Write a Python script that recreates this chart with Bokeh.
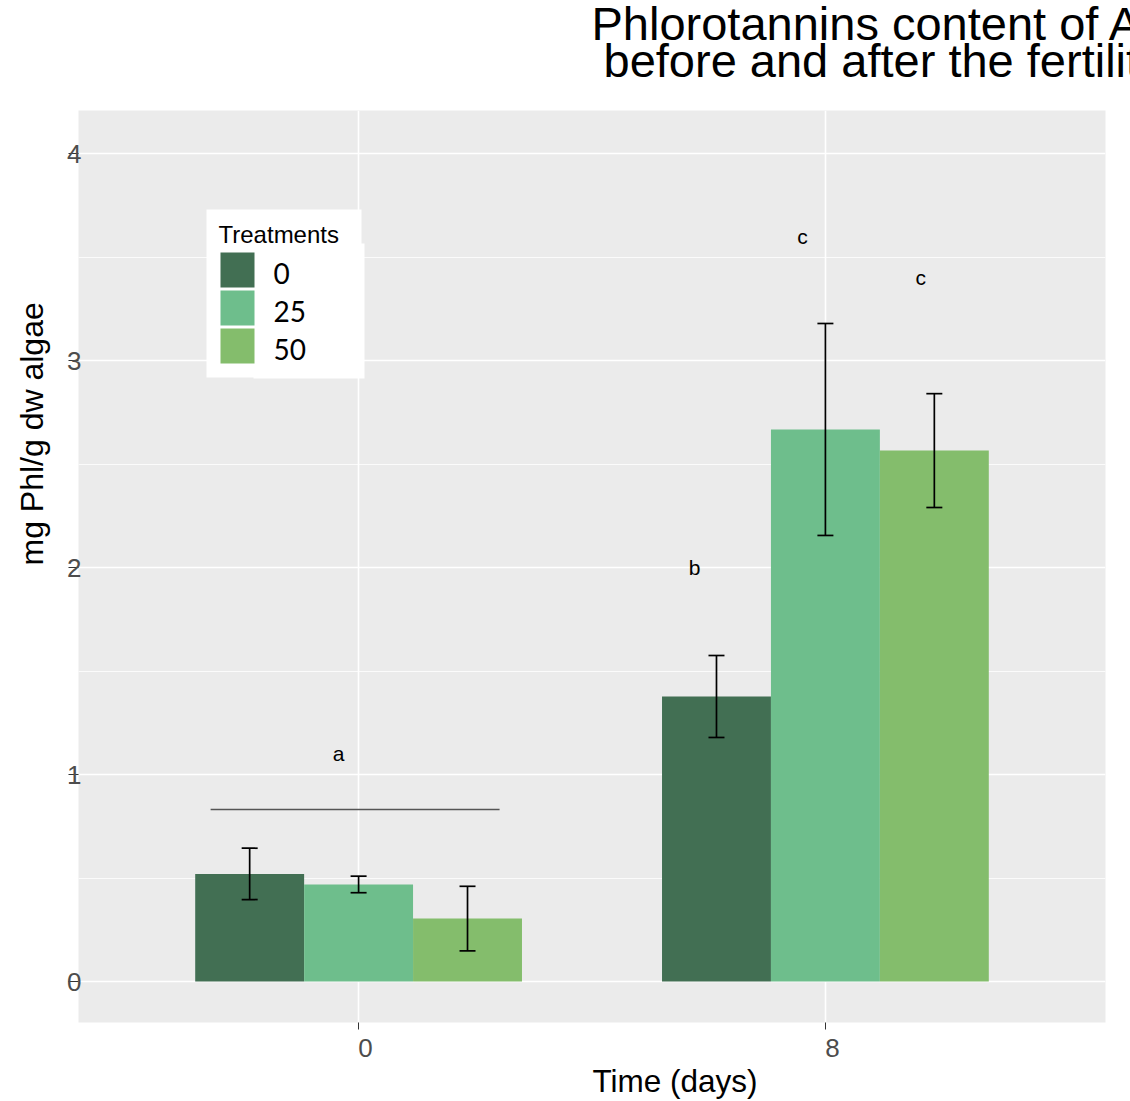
from bokeh.plotting import figure
from bokeh.models import (Range1d, FixedTicker, LinearAxis, Title,
                          Whisker, ColumnDataSource, TeeHead)
from bokeh.embed import file_html
from bokeh.resources import INLINE
from bokeh.core.properties import value

# ---------------- data ----------------
days = ["0", "8"]
day_pos = [1, 2]
treatments = ["0", "25", "50"]
colors = ["#426F53", "#6EBE8C", "#84BD6C"]

mean_t0 = [0.52, 1.377]
mean_t25 = [0.469, 2.667]
mean_t50 = [0.304, 2.565]
sd_t0 = [0.124, 0.198]
sd_t25 = [0.040, 0.512]
sd_t50 = [0.156, 0.275]

letters = ["a", "b", "c", "c"]
letter_x = [0.957, 1.72, 1.951, 2.204]
letter_y = [1.10, 2.00, 3.60, 3.40]

bracket_x = [0.683, 1.302]
bracket_y = [0.831, 0.831]

y_ticks = [0, 1, 2, 3, 4]
y_minor = [0.5, 1.5, 2.5, 3.5]

legend_title = "Treatments"

# ---------------- figure ----------------
FONT = "Liberation Sans"
X0, X1 = 0.4, 2.6
Y0, Y1 = -0.198, 4.208
FL, FR, FT, FB = 78, 1105, 110, 1022   # frame edges in pixels

def px_x(px):
    return X0 + (px - FL) / (FR - FL) * (X1 - X0)

def px_y(py):
    return Y0 + (FB - py) / (FB - FT) * (Y1 - Y0)

p = figure(width=1130, height=1101, output_backend="svg", toolbar_location=None,
           x_range=Range1d(X0, X1), y_range=Range1d(Y0, Y1),
           x_axis_location=None, y_axis_location="left",
           min_border_left=FL, min_border_right=1130 - FR, min_border_top=FT,
           min_border_bottom=1101 - FB)
p.background_fill_color = "#EBEBEB"
p.border_fill_color = "white"
p.outline_line_color = None

p.xgrid.ticker = FixedTicker(ticks=day_pos)
p.xgrid.grid_line_color = "white"
p.xgrid.grid_line_width = 1.6
p.ygrid.ticker = FixedTicker(ticks=y_ticks, minor_ticks=y_minor)
p.ygrid.grid_line_color = "white"
p.ygrid.grid_line_width = 1.6
p.ygrid.minor_grid_line_color = "white"
p.ygrid.minor_grid_line_width = 0.8

# y axis
ya = p.yaxis[0]
ya.ticker = FixedTicker(ticks=y_ticks)
ya.axis_line_color = None
ya.major_tick_in = 0
ya.major_tick_out = 10
ya.major_tick_line_color = "#333333"
ya.minor_tick_line_color = None
ya.major_label_standoff = -13
ya.major_label_text_font = FONT
ya.major_label_text_font_size = "26px"
ya.major_label_text_color = "#4D4D4D"

# x axis: ticks (A) and labels (B)
axA = LinearAxis(ticker=FixedTicker(ticks=day_pos), major_label_overrides={1: "", 2: ""},
                 major_label_text_font_size="0px", major_label_standoff=0,
                 major_tick_in=0, major_tick_out=7, major_tick_line_color="#333333",
                 minor_tick_line_color=None, axis_line_color=None)
shift = 0.015
lab_pos = [d + shift for d in day_pos]
axB = LinearAxis(ticker=FixedTicker(ticks=lab_pos),
                 major_label_overrides={pos: lab for pos, lab in zip(lab_pos, days)},
                 major_label_text_font=FONT, major_label_text_font_size="26px",
                 major_label_text_color="#4D4D4D", major_label_standoff=9,
                 major_tick_in=0, major_tick_out=0, major_tick_line_color=None,
                 minor_tick_line_color=None, axis_line_color=None)
p.add_layout(axA, "below")
p.add_layout(axB, "below")

# ---------------- bars ----------------
bw = 0.7 / 3
offsets = [-bw, 0, bw]
means = [mean_t0, mean_t25, mean_t50]
sds = [sd_t0, sd_t25, sd_t50]
for t, col, off, m, s in zip(treatments, colors, offsets, means, sds):
    src = ColumnDataSource(dict(
        x=[d + off for d in day_pos], top=m,
        upper=[a + b for a, b in zip(m, s)], lower=[a - b for a, b in zip(m, s)]))
    p.vbar(x="x", top="top", bottom=0, width=bw, source=src,
           fill_color=col, line_color=None)
    wk = Whisker(source=src, base="x", upper="upper", lower="lower", level="overlay",
                 line_color="black", line_width=1.7,
                 upper_head=TeeHead(size=16, line_color="black", line_width=1.7),
                 lower_head=TeeHead(size=16, line_color="black", line_width=1.7))
    p.add_layout(wk)

p.line(bracket_x, bracket_y, line_color="#555555", line_width=1.3)
p.text(x=letter_x, y=letter_y, text=letters, text_align="center", text_baseline="middle",
       text_font=value(FONT), text_font_size="21px", text_color="black")

# ---------------- legend (drawn as a key box inside the panel) ----------------
p.quad(left=[px_x(206), px_x(253)], right=[px_x(361), px_x(364)],
       top=[px_y(209), px_y(243)], bottom=[px_y(377), px_y(378)],
       fill_color="white", line_color=None)
pitch = 38
key_top = [252 + pitch * i for i in range(len(treatments))]
p.quad(left=[px_x(220)] * 3, right=[px_x(254)] * 3,
       top=[px_y(k) for k in key_top], bottom=[px_y(k + 35) for k in key_top],
       fill_color=colors, line_color=None)
p.text(x=[px_x(273)] * 3, y=[px_y(k + 21) for k in key_top], text=treatments,
       text_align="left", text_baseline="middle",
       text_font=value("Lato"), text_font_size="28px", text_color="black")
p.text(x=[px_x(218)], y=[px_y(233.5)], text=[legend_title],
       text_align="left", text_baseline="middle",
       text_font=value(FONT), text_font_size="24px", text_color="black")

# ---------------- titles ----------------
p.add_layout(Title(text="mg Phl/g dw algae", align="left", offset=457, standoff=26,
                   vertical_align="top",
                   text_font=FONT, text_font_size="32px", text_font_style="normal",
                   text_color="black"), "left")
p.add_layout(Title(text="Time (days)", align="left", offset=514, standoff=2,
                   text_font=FONT, text_font_size="31.5px", text_font_style="normal",
                   text_color="black"), "below")
p.add_layout(Title(text="before and after the fertilit", align="left", offset=525, standoff=48,
                   text_font=FONT, text_font_size="47px", text_font_style="normal",
                   text_color="black"), "above")
p.add_layout(Title(text="Phlorotannins content of A", align="left", offset=513, standoff=-84,
                   text_font=FONT, text_font_size="47px", text_font_style="normal",
                   text_color="black"), "above")

open("out.html", "w").write(file_html(p, INLINE))
